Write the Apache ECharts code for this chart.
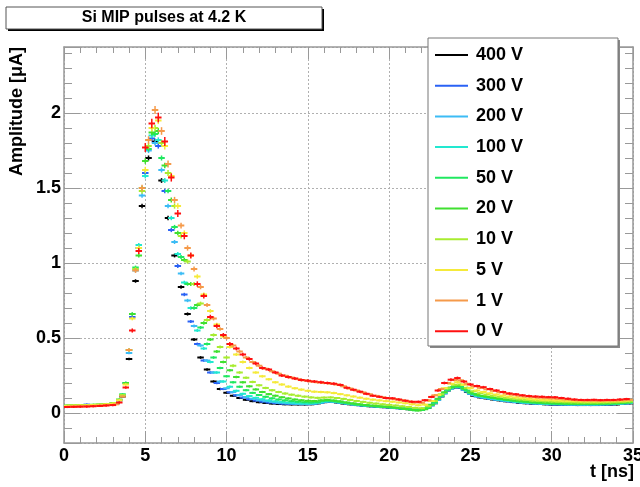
<!DOCTYPE html>
<html><head><meta charset="utf-8">
<script src="https://cdn.jsdelivr.net/npm/echarts@6/dist/echarts.min.js"></script>
<style>html,body{margin:0;padding:0;background:#fff}#c{width:640px;height:487px}</style>
</head><body><div id="c"></div>
<script>
const seriesNames = ['400 V','300 V','200 V','100 V','50 V','20 V','10 V','5 V','1 V','0 V'];
const seriesColors = ['#000000','#2a62f5','#3cbcf5','#22e8d0','#20e860','#40e030','#a8ec30','#f5ea3a','#f59a4a','#ff1010'];
const timesNs = [0.2,0.6,1.0,1.4,1.8,2.2,2.6,3.0,3.4,3.8,4.2,4.6,5.0,5.4,5.8,6.2,6.6,7.0,7.4,7.8,
8.2,8.6,9.0,9.4,9.8,10.2,10.6,11.0,11.4,11.8,12.2,12.6,13.0,13.4,13.8,14.2,14.6,15.0,15.4,15.8,
16.2,16.6,17.0,17.4,17.8,18.2,18.6,19.0,19.4,19.8,20.2,20.6,21.0,21.4,21.8,22.2,22.6,23.0,23.4,23.8,
24.2,24.6,25.0,25.4,25.8,26.2,26.6,27.0,27.4,27.8,28.2,28.6,29.0,29.4,29.8,30.2,30.6,31.0,31.4,31.8,
32.2,32.6,33.0,33.4,33.8,34.2,34.6];
const shiftNs = [0.2,0,0.2,0,0.2,0,0.2,0,0.2,0];
const xErrNs = 0.2;
const yErrFrac = [0.006,0.006,0.006,0.006,0.006,0.007,0.008,0.009,0.01,0.013];
const xTickLabels = [0,5,10,15,20,25,30,35];
const yTickLabels = [0,0.5,1,1.5,2];

const v400 = [0.046,0.047,0.048,0.049,0.051,0.053,0.056,0.062,
0.11,0.36,0.88,1.38,1.7,1.81,1.55,1.3,1.05,0.84,0.66,0.49,
0.37,0.29,0.21,0.16,0.135,0.115,0.1,0.088,0.079,0.072,
0.067,0.063,0.06,0.058,0.057,0.057,0.057,0.058,0.064,0.072,
0.075,0.07,0.063,0.058,0.053,0.049,0.045,0.042,0.039,0.036,
0.033,0.029,0.025,0.021,0.022,0.035,0.065,0.11,0.15,0.17,
0.168,0.14,0.115,0.104,0.097,0.09,0.084,0.078,0.073,0.068,
0.065,0.062,0.06,0.058,0.056,0.055,0.054,0.054,0.053,0.053,
0.053,0.053,0.054,0.055,0.057,0.06,0.064];
const v300 = [0.047,0.048,0.049,0.056,0.052,0.054,0.057,0.062,
0.085,0.2,0.64,1.1,1.6,1.83,1.78,1.48,1.22,0.98,0.79,0.61,
0.46,0.35,0.27,0.2,0.16,0.138,0.118,0.103,0.092,0.083,
0.076,0.07,0.066,0.063,0.061,0.06,0.059,0.059,0.062,0.068,
0.075,0.073,0.067,0.061,0.056,0.051,0.047,0.044,0.041,0.038,
0.035,0.031,0.027,0.023,0.021,0.028,0.05,0.088,0.13,0.162,
0.172,0.155,0.127,0.11,0.101,0.094,0.088,0.082,0.077,0.072,
0.068,0.065,0.062,0.06,0.058,0.057,0.056,0.055,0.055,0.055,
0.055,0.055,0.056,0.057,0.058,0.061,0.064];
const v200 = [0.047,0.048,0.049,0.05,0.052,0.054,0.057,0.063,
0.12,0.4,0.95,1.45,1.75,1.8,1.62,1.38,1.14,0.93,0.75,0.58,
0.45,0.35,0.27,0.21,0.165,0.14,0.12,0.106,0.095,0.086,
0.079,0.073,0.068,0.065,0.063,0.061,0.06,0.061,0.066,0.074,
0.077,0.072,0.066,0.06,0.055,0.051,0.047,0.044,0.041,0.038,
0.035,0.031,0.027,0.023,0.024,0.037,0.066,0.11,0.15,0.172,
0.17,0.143,0.12,0.108,0.1,0.093,0.087,0.081,0.076,0.072,
0.068,0.065,0.063,0.061,0.059,0.058,0.057,0.056,0.056,0.056,
0.056,0.056,0.057,0.058,0.06,0.062,0.066];
const v100 = [0.048,0.049,0.05,0.051,0.053,0.055,0.058,0.063,
0.085,0.2,0.66,1.12,1.58,1.85,1.82,1.55,1.3,1.06,0.87,0.7,
0.55,0.43,0.34,0.27,0.21,0.175,0.148,0.128,0.113,0.101,
0.092,0.084,0.078,0.073,0.069,0.066,0.064,0.063,0.065,0.071,
0.078,0.076,0.07,0.064,0.058,0.053,0.049,0.046,0.043,0.04,
0.037,0.033,0.029,0.025,0.022,0.029,0.052,0.09,0.133,0.165,
0.175,0.158,0.13,0.114,0.105,0.098,0.091,0.085,0.08,0.075,
0.071,0.068,0.065,0.063,0.061,0.06,0.059,0.058,0.058,0.057,
0.057,0.057,0.058,0.059,0.06,0.063,0.066];
const v50 = [0.049,0.05,0.051,0.052,0.054,0.056,0.059,0.065,
0.125,0.42,0.97,1.5,1.76,1.86,1.7,1.48,1.24,1.04,0.86,0.7,
0.57,0.46,0.37,0.3,0.245,0.205,0.175,0.152,0.134,0.12,
0.108,0.098,0.09,0.084,0.079,0.075,0.072,0.07,0.072,0.082,
0.082,0.077,0.07,0.063,0.057,0.052,0.048,0.045,0.042,0.039,
0.035,0.03,0.025,0.018,0.02,0.035,0.07,0.115,0.155,0.175,
0.175,0.15,0.127,0.115,0.107,0.1,0.093,0.087,0.082,0.077,
0.073,0.07,0.067,0.065,0.063,0.062,0.061,0.06,0.06,0.06,
0.06,0.06,0.061,0.062,0.063,0.066,0.07];
const v20 = [0.05,0.051,0.052,0.053,0.055,0.057,0.06,0.066,
0.09,0.2,0.66,1.05,1.68,1.87,1.88,1.65,1.42,1.2,1.02,0.86,
0.72,0.6,0.49,0.41,0.34,0.285,0.24,0.205,0.178,0.157,
0.14,0.126,0.115,0.105,0.097,0.09,0.085,0.081,0.08,0.084,
0.087,0.083,0.077,0.07,0.064,0.058,0.053,0.049,0.045,0.042,
0.038,0.033,0.028,0.022,0.017,0.025,0.055,0.095,0.138,0.17,
0.18,0.162,0.137,0.122,0.113,0.106,0.099,0.093,0.088,0.083,
0.079,0.075,0.072,0.07,0.068,0.066,0.065,0.064,0.063,0.063,
0.063,0.063,0.064,0.065,0.066,0.068,0.071];
const v10 = [0.05,0.051,0.052,0.053,0.055,0.057,0.06,0.066,
0.12,0.42,0.96,1.48,1.78,1.9,1.8,1.6,1.38,1.18,1.01,0.86,
0.73,0.62,0.52,0.44,0.37,0.315,0.27,0.235,0.207,0.185,
0.167,0.152,0.14,0.13,0.122,0.115,0.109,0.104,0.101,0.103,
0.104,0.1,0.094,0.087,0.08,0.074,0.068,0.063,0.058,0.054,
0.05,0.045,0.04,0.034,0.032,0.045,0.08,0.125,0.165,0.188,
0.19,0.168,0.145,0.132,0.123,0.115,0.108,0.101,0.096,0.091,
0.087,0.083,0.08,0.078,0.076,0.074,0.072,0.071,0.07,0.069,
0.069,0.069,0.07,0.071,0.072,0.074,0.077];
const v5 = [0.048,0.049,0.05,0.051,0.053,0.055,0.058,0.063,
0.085,0.19,0.63,1.1,1.62,1.9,1.95,1.78,1.58,1.38,1.2,1.05,
0.91,0.79,0.68,0.59,0.51,0.44,0.39,0.34,0.3,0.27,
0.245,0.225,0.205,0.19,0.176,0.165,0.156,0.148,0.142,0.14,
0.138,0.133,0.126,0.118,0.11,0.102,0.095,0.089,0.084,0.079,
0.075,0.07,0.065,0.058,0.052,0.056,0.08,0.12,0.165,0.195,
0.205,0.188,0.165,0.15,0.14,0.131,0.123,0.116,0.11,0.104,
0.099,0.095,0.091,0.088,0.086,0.084,0.082,0.08,0.079,0.078,
0.077,0.077,0.077,0.078,0.079,0.081,0.083];
const v1 = [0.043,0.044,0.045,0.046,0.048,0.05,0.053,0.058,
0.11,0.42,0.95,1.5,1.82,2.02,1.88,1.66,1.42,1.25,1.1,0.96,
0.84,0.72,0.63,0.56,0.5,0.45,0.41,0.37,0.34,0.315,
0.295,0.278,0.262,0.248,0.236,0.226,0.218,0.21,0.205,0.2,
0.196,0.19,0.178,0.163,0.15,0.137,0.125,0.114,0.105,0.097,
0.092,0.085,0.077,0.07,0.068,0.085,0.118,0.16,0.2,0.22,
0.218,0.195,0.178,0.168,0.158,0.148,0.139,0.13,0.123,0.116,
0.11,0.106,0.102,0.099,0.097,0.094,0.091,0.088,0.085,0.083,
0.082,0.082,0.082,0.083,0.084,0.086,0.088];
const v0 = [0.04,0.041,0.042,0.043,0.045,0.047,0.05,0.053,
0.07,0.17,0.55,1.08,1.77,1.93,1.97,1.81,1.57,1.33,1.18,1.05,
0.86,0.78,0.64,0.58,0.52,0.46,0.43,0.39,0.36,0.33,
0.3,0.29,0.27,0.25,0.24,0.23,0.22,0.215,0.21,0.205,
0.2,0.195,0.187,0.168,0.155,0.142,0.128,0.115,0.108,0.1,
0.098,0.09,0.082,0.075,0.075,0.085,0.107,0.15,0.2,0.222,
0.233,0.21,0.19,0.18,0.172,0.16,0.15,0.14,0.13,0.125,
0.118,0.113,0.11,0.108,0.106,0.105,0.1,0.095,0.09,0.087,
0.087,0.088,0.086,0.087,0.087,0.09,0.093];
const seriesValues = [v400,v300,v200,v100,v50,v20,v10,v5,v1,v0];

const FONT = 'Liberation Sans, Arial, Helvetica, sans-serif';
const AXC = '#999';

function makeSeries(i) {
  const data = seriesValues[i].map((y, k) => [timesNs[k] + shiftNs[i], y]);
  const color = seriesColors[i];
  const frac = yErrFrac[i];
  return {
    name: seriesNames[i], type: 'custom', xAxisIndex: 0, yAxisIndex: 0,
    itemStyle: { color: color }, clip: true, z: 2,
    data: data,
    renderItem: function (params, api) {
      const t = api.value(0), y = api.value(1);
      const pl = api.coord([t - xErrNs, y]);
      const pr = api.coord([t + xErrNs, y]);
      const pt = api.coord([t, y + y * frac]);
      const pb = api.coord([t, y - y * frac]);
      return { type: 'group', children: [
        { type: 'line', shape: { x1: pl[0], y1: pl[1], x2: pr[0], y2: pr[1] }, style: { stroke: color, lineWidth: 2 } },
        { type: 'line', shape: { x1: pt[0], y1: pt[1] - 1, x2: pb[0], y2: pb[1] + 1 }, style: { stroke: color, lineWidth: 1.5 } }
      ]};
    }
  };
}

const chart = echarts.init(document.getElementById('c'), null, { renderer: 'canvas' });
const baseX = { type: 'value', min: 0, max: 35, interval: 5 };
const baseY = { type: 'value', min: -0.2, max: 2.44, splitNumber: 5 };
chart.setOption({
  animation: false,
  color: seriesColors,
  grid: { left: 64, right: 7, top: 47, bottom: 44, containLabel: false, outerBoundsMode: 'none' },
  xAxis: [
    Object.assign({}, baseX, {
      position: 'bottom',
      axisLine: { show: true, onZero: false, lineStyle: { color: AXC, width: 1.5 } },
      axisTick: { show: true, inside: true, length: 12, lineStyle: { color: AXC } },
      minorTick: { show: true, splitNumber: 5, length: 6, lineStyle: { color: AXC } },
      splitLine: { show: true, lineStyle: { color: '#b0b0b0', type: [2, 2], width: 1 } },
      axisLabel: { show: true, margin: 4, color: '#000', fontSize: 18, fontWeight: 'bold', fontFamily: FONT,
        showMaxLabel: true, showMinLabel: true,
        formatter: v => xTickLabels.indexOf(v) >= 0 ? String(v) : '' }
    }),
    Object.assign({}, baseX, {
      position: 'top',
      axisLine: { show: true, onZero: false, lineStyle: { color: AXC, width: 1.5 } },
      axisTick: { show: true, inside: true, length: 12, lineStyle: { color: AXC } },
      minorTick: { show: true, splitNumber: 5, length: 6, lineStyle: { color: AXC } },
      splitLine: { show: false }, axisLabel: { show: false }
    })
  ],
  yAxis: [
    Object.assign({}, baseY, {
      position: 'left',
      axisLine: { show: true, onZero: false, lineStyle: { color: AXC, width: 1.5 } },
      axisTick: { show: true, inside: true, length: 16, lineStyle: { color: AXC } },
      minorTick: { show: true, splitNumber: 5, length: 8, lineStyle: { color: AXC } },
      splitLine: { show: true, lineStyle: { color: '#b0b0b0', type: [2, 2], width: 1 } },
      axisLabel: { show: true, margin: 3, color: '#000', fontSize: 18, fontWeight: 'bold', fontFamily: FONT,
        formatter: v => yTickLabels.some(t => Math.abs(t - v) < 1e-9) ? String(v) : '' }
    }),
    Object.assign({}, baseY, {
      position: 'right',
      axisLine: { show: true, onZero: false, lineStyle: { color: AXC, width: 1.5 } },
      axisTick: { show: true, inside: true, length: 16, lineStyle: { color: AXC } },
      minorTick: { show: true, splitNumber: 5, length: 8, lineStyle: { color: AXC } },
      splitLine: { show: false }, axisLabel: { show: false }
    })
  ],
  legend: {
    orient: 'vertical', left: 435, top: 45, padding: 0, z: 12,
    icon: 'rect', itemWidth: 33, itemHeight: 2, itemGap: 10.7,
    selectedMode: false,
    data: seriesNames,
    textStyle: { color: '#000', fontSize: 18, fontWeight: 'bold', fontFamily: FONT, lineHeight: 20, padding: [0, 0, 0, 3] }
  },
  graphic: [
    { type: 'rect', z: 10, shape: { x: 8, y: 9, width: 316, height: 22 }, style: { fill: '#000' } },
    { type: 'rect', z: 10, shape: { x: 6, y: 7, width: 316, height: 22 }, style: { fill: '#fff', stroke: '#555', lineWidth: 1 } },
    { type: 'text', z: 11, x: 164, y: 18, style: { text: 'Si MIP pulses at 4.2 K', fill: '#000', font: 'bold 16px ' + FONT, textAlign: 'center', textVerticalAlign: 'middle' } },
    { type: 'rect', z: 10, shape: { x: 430, y: 40, width: 190, height: 308 }, style: { fill: '#888' } },
    { type: 'rect', z: 10, shape: { x: 428, y: 38, width: 190, height: 308 }, style: { fill: '#fff', stroke: '#777', lineWidth: 1 } },
    { type: 'text', z: 11, x: 17, y: 47, rotation: Math.PI / 2, style: { text: 'Amplitude [\u03bcA]', fill: '#000', font: 'bold 18px ' + FONT, textAlign: 'right', textVerticalAlign: 'middle' } },
    { type: 'text', z: 11, x: 634, y: 472, style: { text: 't [ns]', fill: '#000', font: 'bold 18px ' + FONT, textAlign: 'right', textVerticalAlign: 'middle' } }
  ],
  series: seriesNames.map((n, i) => makeSeries(i))
});
</script>
</body></html>
